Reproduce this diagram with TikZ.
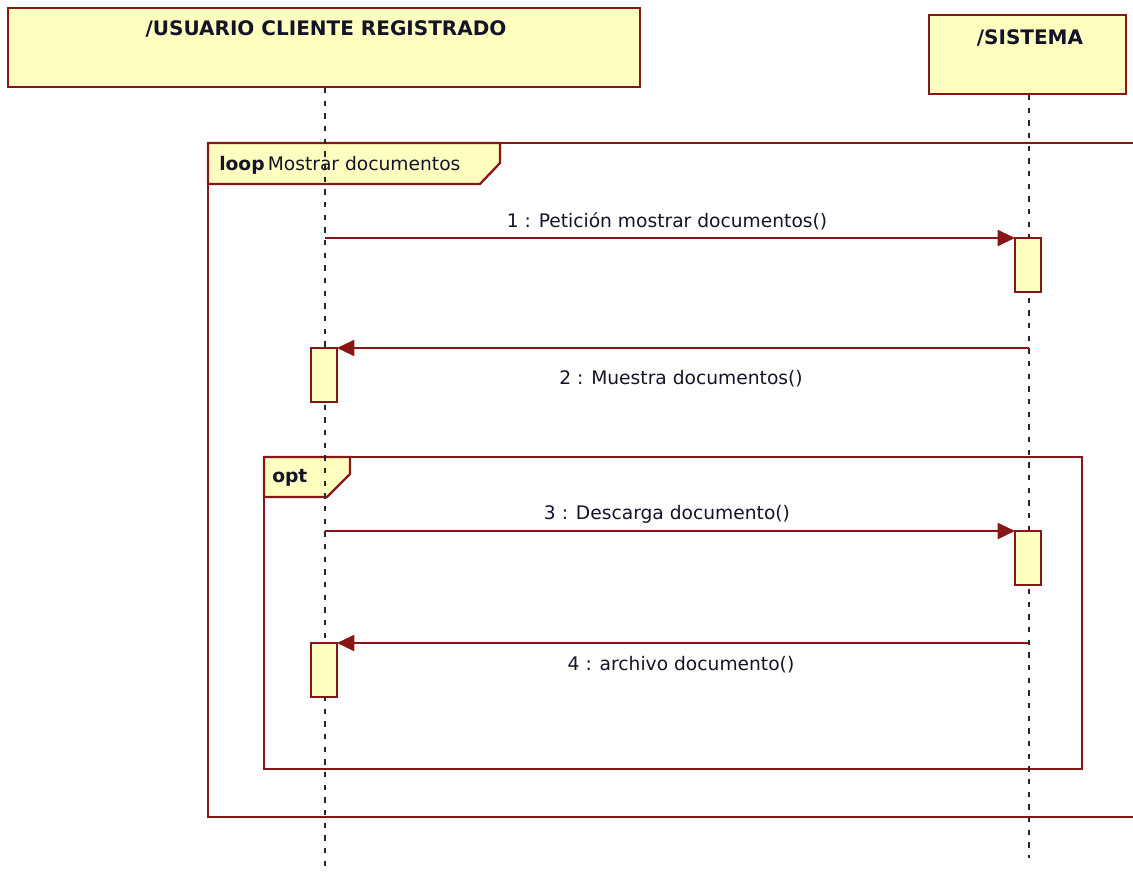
\documentclass[tikz,border=0pt]{standalone}
\usepackage{fontspec}
\setmainfont{DejaVu Sans}
\usetikzlibrary{arrows.meta}

\definecolor{borde}{RGB}{135,22,22}
\definecolor{relleno}{RGB}{255,255,192}
\definecolor{vida}{RGB}{40,40,40}
\definecolor{texto}{RGB}{20,20,40}

\begin{document}
\begin{tikzpicture}[x=0.75pt,y=0.75pt,yscale=-1,xscale=1,
  caja/.style={draw=borde,fill=relleno,line width=1.8pt},
  marco/.style={draw=borde,line width=1.7pt},
  linvida/.style={draw=vida,line width=1.5pt,dash pattern={on 4pt off 5.5pt}},
  activ/.style={draw=borde,fill=relleno,line width=1.6pt,minimum width=19.5pt,minimum height=40.5pt,inner sep=0pt,outer sep=0pt},
  mensaje/.style={draw=borde,line width=1.5pt,-{Triangle[length=13pt,width=12pt]}},
  etiq/.style={font=\fontsize{14pt}{16pt}\selectfont,text=texto,inner sep=0pt},
  titulo/.style={font=\fontsize{15pt}{17pt}\selectfont\bfseries,text=texto,inner sep=0pt}]
\useasboundingbox (0,0) rectangle (1133,873);

%Shape: Rectangle [usuario]
\draw [caja] (8,8) rectangle (640,87) ;
%Shape: Rectangle [sistema]
\draw [caja] (929,15) rectangle (1126,94) ;

%Shape: Frame [loop]
\draw [marco] (1133,143) -- (208,143) -- (208,817) -- (1133,817) ;
\draw [caja,line width=1.7pt] (208,143) -- (500,143) -- (500,163) -- (480,184) -- (208,184) -- cycle ;
%Shape: Frame [opt]
\draw [marco] (264,457) rectangle (1082,769) ;
\draw [caja,line width=1.7pt] (264,457) -- (350,457) -- (350,474) -- (327,497) -- (264,497) -- cycle ;

%Straight Lines [lifelines]
\coordinate (u0) at (325,88) ;
\coordinate (u1) at (325,873) ;
\coordinate (s0) at (1029,95) ;
\coordinate (s1) at (1029,858) ;
\draw [linvida] (u0) -- (u1) ;
\draw [linvida] (s0) -- (s1) ;

%Shape: Activations
\node [activ] (act1) at (1028,265) {} ;
\node [activ] (act2) at (324,375) {} ;
\node [activ] (act3) at (1028,558) {} ;
\node [activ] (act4) at (324,670) {} ;

%Straight Lines [messages]
\coordinate (m1) at (325,238) ;
\coordinate (m2) at (1029,348) ;
\coordinate (m3) at (325,531) ;
\coordinate (m4) at (1029,643) ;
\draw [mensaje] (m1) -- (act1.north west) ;
\draw [mensaje] (m2) -- (act2.north east) ;
\draw [mensaje] (m3) -- (act3.north west) ;
\draw [mensaje] (m4) -- (act4.north east) ;

% Text Node
\node [titulo] (tusuario) at (326,29) {/USUARIO CLIENTE REGISTRADO};
% Text Node
\node [titulo] (tsistema) at (1030,38) {/SISTEMA};
% Text Node
\node [etiq,anchor=west] (tloop) at (219,165) {\textbf{loop}\,Mostrar documentos};
% Text Node
\node [etiq,anchor=west] (topt) at (272,478) {\textbf{opt}};
% Text Node
\node [etiq] (t1) at (667,221) {1 : Petición mostrar documentos()};
% Text Node
\node [etiq] (t2) at (681,379) {2 : Muestra documentos()};
% Text Node
\node [etiq] (t3) at (667,514) {3 : Descarga documento()};
% Text Node
\node [etiq] (t4) at (681,665) {4 : archivo documento()};

\end{tikzpicture}
\end{document}
